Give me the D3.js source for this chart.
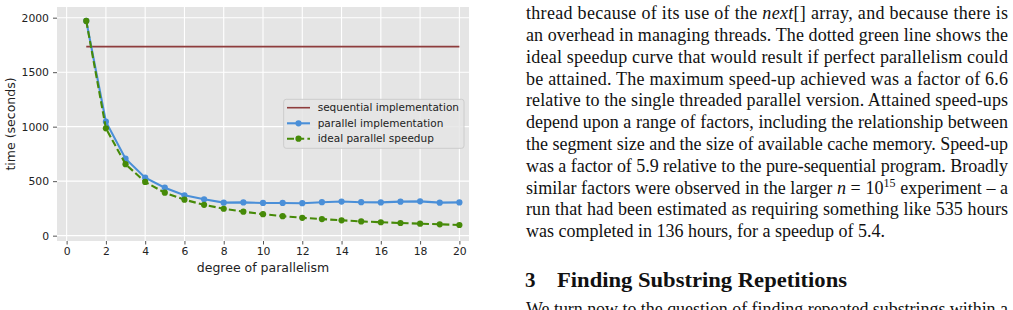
<!DOCTYPE html>
<html>
<head>
<meta charset="utf-8">
<script src="https://cdn.jsdelivr.net/npm/d3@7"></script>
<style>
  body { margin: 0; background: #fff; }
  svg { display: block; }
</style>
</head>
<body>
<svg id="page" width="1013" height="310"></svg>
<script>
// values
var degrees = [1, 2, 3, 4, 5, 6, 7, 8, 9, 10, 11, 12, 13, 14, 15, 16, 17, 18, 19, 20];
var parallelTimes = [1970, 1046, 706, 532, 440, 370, 334, 303, 305, 300, 300, 298, 307, 313, 307, 305, 312, 315, 303, 305];
var idealTimes = [1970, 985, 656, 493, 394, 330, 283, 247, 220, 197, 179, 164, 152, 141, 131, 123, 116, 110, 104, 98];
var sequentialTime = 1734;
var xTicks = [0, 2, 4, 6, 8, 10, 12, 14, 16, 18, 20];
var yTicks = [0, 500, 1000, 1500, 2000];
var legendLabels = ['sequential implementation', 'parallel implementation', 'ideal parallel speedup'];

var colSeq = '#8e3d3d', colPar = '#4a8fd8', colIdeal = '#468a08';

var svg = d3.select('#page');

var x = d3.scaleLinear().domain([-0.49, 20.49]).range([57, 469]);
var y = d3.scaleLinear().domain([-49, 2098]).range([241, 7]);

// plot background + grid
svg.append('rect')
  .attr('x', 57).attr('y', 7).attr('width', 412).attr('height', 234)
  .attr('fill', '#e5e5e5');

var grid = svg.append('g');
grid.selectAll('line.gx').data(xTicks).enter().append('line')
  .attr('x1', function(d) { return x(d); }).attr('x2', function(d) { return x(d); })
  .attr('y1', 7).attr('y2', 241)
  .attr('stroke', '#fff').attr('stroke-width', 1.1);
grid.selectAll('line.gy').data(yTicks).enter().append('line')
  .attr('y1', function(d) { return y(d); }).attr('y2', function(d) { return y(d); })
  .attr('x1', 57).attr('x2', 469)
  .attr('stroke', '#fff').attr('stroke-width', 1.1);

// axes
var xAxis = svg.append('g')
  .attr('transform', 'translate(0,241)')
  .call(d3.axisBottom(x).tickValues(xTicks).tickFormat(d3.format('d')).tickSize(3.5).tickPadding(3));
var yAxis = svg.append('g')
  .attr('transform', 'translate(57,0)')
  .call(d3.axisLeft(y).tickValues(yTicks).tickFormat(d3.format('d')).tickSize(4).tickPadding(4));

[xAxis, yAxis].forEach(function(a) {
  a.select('.domain').remove();
  a.selectAll('.tick line').attr('stroke', '#555').attr('stroke-width', 1);
  a.selectAll('.tick text')
    .attr('fill', '#222')
    .style('font-family', 'DejaVu Sans')
    .style('font-size', '10.8px');
});

svg.append('text')
  .attr('x', 263).attr('y', 272)
  .attr('text-anchor', 'middle')
  .attr('fill', '#222')
  .style('font-family', 'DejaVu Sans').style('font-size', '12.5px')
  .text('degree of parallelism');

svg.append('text')
  .attr('transform', 'translate(15,124) rotate(-90)')
  .attr('text-anchor', 'middle')
  .attr('fill', '#222')
  .style('font-family', 'DejaVu Sans').style('font-size', '12.5px')
  .text('time (seconds)');

// series
svg.append('line')
  .attr('x1', x(degrees[0])).attr('x2', x(degrees[degrees.length - 1]))
  .attr('y1', y(sequentialTime)).attr('y2', y(sequentialTime))
  .attr('stroke', colSeq).attr('stroke-width', 1.6);

var line = d3.line()
  .x(function(d) { return x(d[0]); })
  .y(function(d) { return y(d[1]); });

var parData = degrees.map(function(d, i) { return [d, parallelTimes[i]]; });
var idealData = degrees.map(function(d, i) { return [d, idealTimes[i]]; });

function drawSeries(data, color, dash) {
  var g = svg.append('g');
  g.append('path')
    .datum(data)
    .attr('d', line)
    .attr('fill', 'none')
    .attr('stroke', color)
    .attr('stroke-width', 2.1)
    .attr('stroke-dasharray', dash);
  g.selectAll('circle').data(data).enter().append('circle')
    .attr('cx', function(d) { return x(d[0]); })
    .attr('cy', function(d) { return y(d[1]); })
    .attr('r', 3.1)
    .attr('fill', color);
}
drawSeries(parData, colPar, null);
drawSeries(idealData, colIdeal, '7,3.2');

// legend
var leg = svg.append('g');
leg.append('rect')
  .attr('x', 283.7).attr('y', 99.3).attr('width', 180.3).attr('height', 49)
  .attr('rx', 2.5)
  .attr('fill', '#e5e5e5').attr('fill-opacity', 0.85)
  .attr('stroke', '#cccccc').attr('stroke-width', 1);

var legRows = [107.7, 123.3, 138.7];
var legColors = [colSeq, colPar, colIdeal];
legendLabels.forEach(function(lbl, i) {
  var cy = legRows[i];
  leg.append('line')
    .attr('x1', 287).attr('x2', 310).attr('y1', cy).attr('y2', cy)
    .attr('stroke', legColors[i])
    .attr('stroke-width', i === 0 ? 1.6 : 2.1)
    .attr('stroke-dasharray', i === 2 ? '7,3.2' : null);
  if (i > 0) {
    leg.append('circle').attr('cx', 298.5).attr('cy', cy).attr('r', 3.1).attr('fill', legColors[i]);
  }
  leg.append('text')
    .attr('x', 317.7).attr('y', cy + 3.7)
    .attr('fill', '#222')
    .style('font-family', 'DejaVu Sans').style('font-size', '10.5px')
    .text(lbl);
});

// surrounding paper text
var textLines = [
  [['thread because of its use of the ', ''], ['next', 'i'], ['[] array, and because there is', '']],
  [['an overhead in managing threads. The dotted green line shows the', '']],
  [['ideal speedup curve that would result if perfect parallelism could', '']],
  [['be attained. The maximum speed-up achieved was a factor of 6.6', '']],
  [['relative to the single threaded parallel version. Attained speed-ups', '']],
  [['depend upon a range of factors, including the relationship between', '']],
  [['the segment size and the size of available cache memory. Speed-up', '']],
  [['was a factor of 5.9 relative to the pure-sequential program. Broadly', '']],
  [['similar factors were observed in the larger ', ''], ['n', 'i'], [' = 10', ''], ['15', 'sup'], [' experiment \u2013 a', '']],
  [['run that had been estimated as requiring something like 535 hours', '']],
  [['was completed in 136 hours, for a speedup of 5.4.', '']]
];
var textLeft = 526, textWidth = 482, lineGap = 21.8, firstBase = 19.2;

function writeLine(parts, yb, justify) {
  var t = svg.append('text')
    .attr('x', textLeft).attr('y', yb)
    .attr('fill', '#111')
    .style('font-family', 'Liberation Serif').style('font-size', '18px');
  if (justify) t.attr('textLength', textWidth).attr('lengthAdjust', 'spacing');
  var shifted = false;
  parts.forEach(function(p) {
    var s = t.append('tspan').text(p[0]);
    if (p[1] === 'i') s.style('font-style', 'italic');
    if (p[1] === 'sup') { s.attr('dy', -7).style('font-size', '12px'); shifted = true; }
    else if (shifted) { s.attr('dy', 7); shifted = false; }
  });
}
textLines.forEach(function(parts, i) {
  writeLine(parts, firstBase + i * lineGap, i < textLines.length - 1);
});

svg.append('text')
  .attr('x', 525).attr('y', 287)
  .attr('fill', '#111')
  .style('font-family', 'Liberation Serif').style('font-size', '21px').style('font-weight', 'bold')
  .text('3');
svg.append('text')
  .attr('x', 557).attr('y', 287)
  .attr('textLength', 290).attr('lengthAdjust', 'spacingAndGlyphs')
  .attr('fill', '#111')
  .style('font-family', 'Liberation Serif').style('font-size', '21px').style('font-weight', 'bold')
  .text('Finding Substring Repetitions');

writeLine([['We turn now to the question of finding repeated substrings within a', '']], 314.5, true);
</script>
</body>
</html>
